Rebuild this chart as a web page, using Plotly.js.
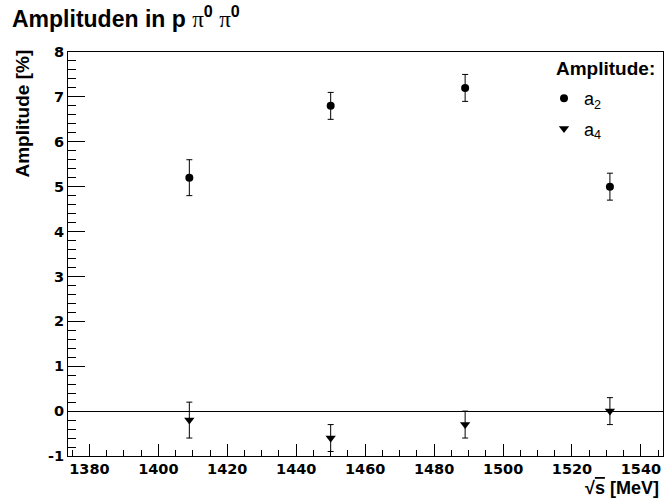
<!DOCTYPE html>
<html>
<head>
<meta charset="utf-8">
<script src="https://cdn.plot.ly/plotly-3.0.1.min.js"></script>
<style>html,body{margin:0;padding:0;background:#fff;}</style>
</head>
<body>
<div id="chart" style="width:664px;height:500px;"></div>
<script>
// Data
const energies = [1409, 1450, 1489, 1531];          // sqrt(s) [MeV]
const a2Values = [5.2, 6.8, 7.2, 5.0];              // Amplitude a2 [%]
const a2Errors = [0.4, 0.3, 0.3, 0.3];
const a4Values = [-0.2, -0.6, -0.3, 0.0];           // Amplitude a4 [%]
const a4Errors = [0.4, 0.3, 0.3, 0.3];
const seriesNames = ['a<sub>2</sub>', 'a<sub>4</sub>'];
const xTickVals = [1380, 1400, 1420, 1440, 1460, 1480, 1500, 1520, 1540];
const yTickVals = [-1, 0, 1, 2, 3, 4, 5, 6, 7, 8];

const FONT = 'Liberation Sans, Arial, Helvetica, sans-serif';
const TICKFONT = 'DejaVu Sans, Liberation Sans, sans-serif';
const W = 664, H = 500;
const M = {l: 68, r: 1, t: 52, b: 44};
const PW = W - M.l - M.r, PH = H - M.t - M.b;
const px2x = px => (px - M.l) / PW;
const py2y = py => (H - M.b - py) / PH;
const bold = v => '<b>' + v + '</b>';

const traces = [
  {
    x: energies, y: a2Values, name: seriesNames[0], type: 'scatter', mode: 'markers',
    marker: {symbol: 'circle', size: 8, color: 'black'},
    error_y: {type: 'data', array: a2Errors, visible: true, color: 'black', thickness: 1, width: 3},
    legendgroup: 'g1'
  },
  {
    x: energies, y: a4Values, name: seriesNames[1], type: 'scatter', mode: 'markers',
    marker: {symbol: 'triangle-down', size: 9, color: 'black'},
    error_y: {type: 'data', array: a4Errors, visible: true, color: 'black', thickness: 1, width: 3},
    legendgroup: 'g2'
  }
];

const pi = '<span style="font-family:Liberation Serif;font-weight:normal">π</span>';
const layout = {
  width: W, height: H,
  margin: M,
  paper_bgcolor: 'white', plot_bgcolor: 'white',
  font: {family: FONT, color: 'black'},
  showlegend: true,
  title: {
    text: '<b>Amplituden in p </b>' + pi + '<b><sup>0</sup></b> ' + pi + '<b><sup>0</sup></b>',
    font: {family: FONT, size: 23, color: 'black'},
    xref: 'container', yref: 'container',
    x: 12 / W, xanchor: 'left',
    y: 1 - 10.5 / H, yanchor: 'top'
  },
  xaxis: {
    range: [1373.8, 1546.4],
    tickmode: 'array', tickvals: xTickVals, ticktext: xTickVals.map(bold),
    ticks: 'inside', ticklen: 12, tickwidth: 1, tickcolor: 'black',
    minor: {tickmode: 'linear', tick0: 1380, dtick: 5, ticks: 'inside', ticklen: 6, tickcolor: 'black', showgrid: false},
    showline: true, linecolor: 'black', linewidth: 1, mirror: true,
    showgrid: false, zeroline: false,
    tickfont: {family: TICKFONT, size: 14.5, color: 'black', weight: 'bold'}
  },
  yaxis: {
    range: [-1, 8],
    tickmode: 'array', tickvals: yTickVals, ticktext: yTickVals.map(bold),
    ticks: 'inside', ticklen: 17, tickwidth: 1, tickcolor: 'black',
    minor: {tickmode: 'linear', tick0: 0, dtick: 0.2, ticks: 'inside', ticklen: 8, tickcolor: 'black', showgrid: false},
    showline: true, linecolor: 'black', linewidth: 1, mirror: true,
    showgrid: false,
    zeroline: true, zerolinecolor: 'black', zerolinewidth: 1,
    tickfont: {family: TICKFONT, size: 14.5, color: 'black', weight: 'bold'}
  },
  legend: {
    font: {family: FONT, size: 18, color: 'black'},
    x: px2x(544), y: py2y(80), xanchor: 'left', yanchor: 'top',
    bgcolor: 'rgba(0,0,0,0)', borderwidth: 0,
    traceorder: 'grouped', tracegroupgap: 4
  },
  annotations: [
    {
      text: '<b>Amplitude:</b>', showarrow: false,
      xref: 'paper', yref: 'paper', x: px2x(554), y: py2y(68),
      xanchor: 'left', yanchor: 'middle',
      font: {family: FONT, size: 19, color: 'black'}
    },
    {
      text: '<b>Amplitude [%]</b>', textangle: -90, showarrow: false,
      xref: 'paper', yref: 'paper', x: px2x(22), y: py2y(113.5),
      xanchor: 'center', yanchor: 'middle',
      font: {family: FONT, size: 19, color: 'black'}
    },
    {
      text: '<b>√<span style="text-decoration:overline">s</span> [MeV]</b>', showarrow: false,
      xref: 'paper', yref: 'paper', x: px2x(661), y: py2y(488),
      xanchor: 'right', yanchor: 'middle',
      font: {family: FONT, size: 18, color: 'black'}
    }
  ]
};

Plotly.newPlot('chart', traces, layout, {displayModeBar: false, staticPlot: true});
</script>
</body>
</html>
